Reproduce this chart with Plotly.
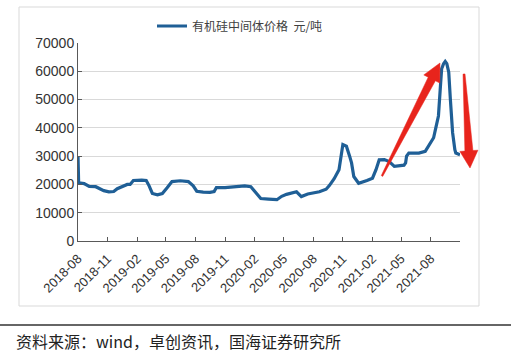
import plotly.graph_objects as go

# ---- data ----
dates = [
    "2018-08-01", "2018-08-03", "2018-08-20", "2018-09-05", "2018-09-25", "2018-10-10",
    "2018-10-20", "2018-11-05", "2018-11-20", "2018-12-01", "2018-12-15", "2019-01-01",
    "2019-01-10", "2019-01-20", "2019-02-15", "2019-03-01", "2019-03-10", "2019-03-20",
    "2019-04-05", "2019-04-20", "2019-05-05", "2019-05-20", "2019-06-15", "2019-07-10",
    "2019-07-25", "2019-08-05", "2019-08-25", "2019-09-15", "2019-09-28", "2019-10-05",
    "2019-11-01", "2019-12-01", "2020-01-01", "2020-01-20", "2020-02-01", "2020-02-20",
    "2020-03-15", "2020-04-10", "2020-04-25", "2020-05-10", "2020-06-10", "2020-06-25",
    "2020-07-15", "2020-08-01", "2020-08-20", "2020-09-10", "2020-09-20", "2020-10-05",
    "2020-10-20", "2020-11-01", "2020-11-12", "2020-11-22", "2020-11-28", "2020-12-05",
    "2020-12-20", "2021-01-15", "2021-02-01", "2021-02-12", "2021-02-22", "2021-03-10",
    "2021-03-25", "2021-04-10", "2021-04-25", "2021-05-10", "2021-05-15", "2021-05-18",
    "2021-05-25", "2021-06-25", "2021-07-15", "2021-08-01", "2021-08-10", "2021-08-18",
    "2021-08-25", "2021-09-01", "2021-09-04", "2021-09-10", "2021-09-15", "2021-09-20",
    "2021-09-26", "2021-10-01", "2021-10-03", "2021-10-08", "2021-10-15", "2021-10-18",
    "2021-10-31",
]
prices = [
    30000, 20600, 20300, 19300, 19200, 18500,
    17800, 17400, 17500, 18500, 19300, 20000,
    20000, 21400, 21500, 21400, 19500, 16800,
    16300, 16800, 18800, 21000, 21300, 21000,
    19500, 17600, 17300, 17200, 17500, 18900,
    18900, 19200, 19500, 19200, 17500, 15000,
    14800, 14600, 15800, 16500, 17400, 15700,
    16600, 16900, 17400, 18300, 19600, 22000,
    25200, 34100, 33500, 30000, 27600, 22800,
    20400, 21400, 22200, 25200, 28700, 28800,
    28100, 26400, 26600, 26800, 27600, 30000,
    31100, 31100, 31700, 34700, 36500, 40600,
    44200, 56100, 60900, 62700, 63500, 62700,
    59700, 50200, 45400, 38300, 32300, 31100,
    30500,
]
series_name = "有机硅中间体价格  元/吨"
source_text = "资料来源：wind，卓创资讯，国海证券研究所"
y_ticks = [0, 10000, 20000, 30000, 40000, 50000, 60000, 70000]

# ---- layout geometry (pixels) ----
W, H = 511, 355
ML, MR, MT, MB = 78, 51, 43, 114
PW, PH = W - ML - MR, H - MT - MB


def px(x):
    return (x - ML) / PW


def py(y):
    return (H - MB - y) / PH


def poly(points):
    return "M " + " L ".join(f"{px(x):.4f},{py(y):.4f}" for x, y in points) + " Z"


fig = go.Figure()
fig.add_trace(go.Scatter(
    x=dates, y=prices, mode="lines", name=series_name,
    line=dict(color="#1f5f96", width=3.2),
    showlegend=True,
))

red = "#e8241c"
arrow1 = [(381.3, 175.6), (428.2, 77.2), (423.8, 74.9), (440, 63),
          (439.8, 83.1), (435.4, 80.8), (382.7, 176.4)]
arrow2 = [(463, 74.1), (464.9, 151.1), (459.9, 151.4), (470, 168),
          (477.9, 150.2), (472.9, 150.5), (465, 73.9)]

shapes = [
    dict(type="rect", xref="paper", yref="paper", x0=px(19), x1=px(479), y0=py(7), y1=py(306),
         line=dict(color="#d9d9d9", width=1), fillcolor="rgba(0,0,0,0)", layer="below"),
    dict(type="line", xref="paper", yref="paper", x0=px(0), x1=px(511), y0=py(325), y1=py(325),
         line=dict(color="#333333", width=1.5)),
    dict(type="path", xref="paper", yref="paper", path=poly(arrow1),
         fillcolor=red, line=dict(color=red, width=0.5)),
    dict(type="path", xref="paper", yref="paper", path=poly(arrow2),
         fillcolor=red, line=dict(color=red, width=0.5)),
]

fig.update_layout(
    width=W, height=H,
    margin=dict(l=ML, r=MR, t=MT, b=MB, autoexpand=False),
    paper_bgcolor="white", plot_bgcolor="white",
    font=dict(family="Liberation Sans, Noto Sans CJK SC", color="#333333"),
    showlegend=True,
    legend=dict(orientation="h", x=px(152), y=py(26), xanchor="left", yanchor="middle",
                font=dict(family="Noto Sans CJK SC", size=12, color="#404040"),
                bgcolor="rgba(0,0,0,0)", itemwidth=30),
    xaxis=dict(
        type="date", range=["2018-08-01", "2021-10-31"],
        tick0="2018-08-01", dtick="M3", tickformat="%Y-%m", tickangle=-45,
        showgrid=False, showline=True, linecolor="#595959", linewidth=1,
        ticks="inside", ticklen=4, tickcolor="#595959", ticklabelstandoff=4,
        tickfont=dict(size=13, color="#333333"), zeroline=False,
    ),
    yaxis=dict(
        range=[0, 70000], tickvals=y_ticks, ticktext=[str(v) for v in y_ticks],
        showgrid=True, gridcolor="#d9d9d9", gridwidth=1,
        showline=True, linecolor="#595959", linewidth=1,
        ticks="inside", ticklen=4, tickcolor="#595959",
        tickfont=dict(size=14, color="#333333"), zeroline=False,
    ),
    shapes=shapes,
    annotations=[
        dict(text=source_text, xref="paper", yref="paper", x=px(14), y=py(341),
             xanchor="left", yanchor="middle", showarrow=False,
             font=dict(family="Noto Sans CJK SC", size=16, color="#222222")),
    ],
)

fig.write_html("out.html", config={"displayModeBar": False},
               post_script="document.body.style.margin='0';document.body.style.overflow='hidden';")
